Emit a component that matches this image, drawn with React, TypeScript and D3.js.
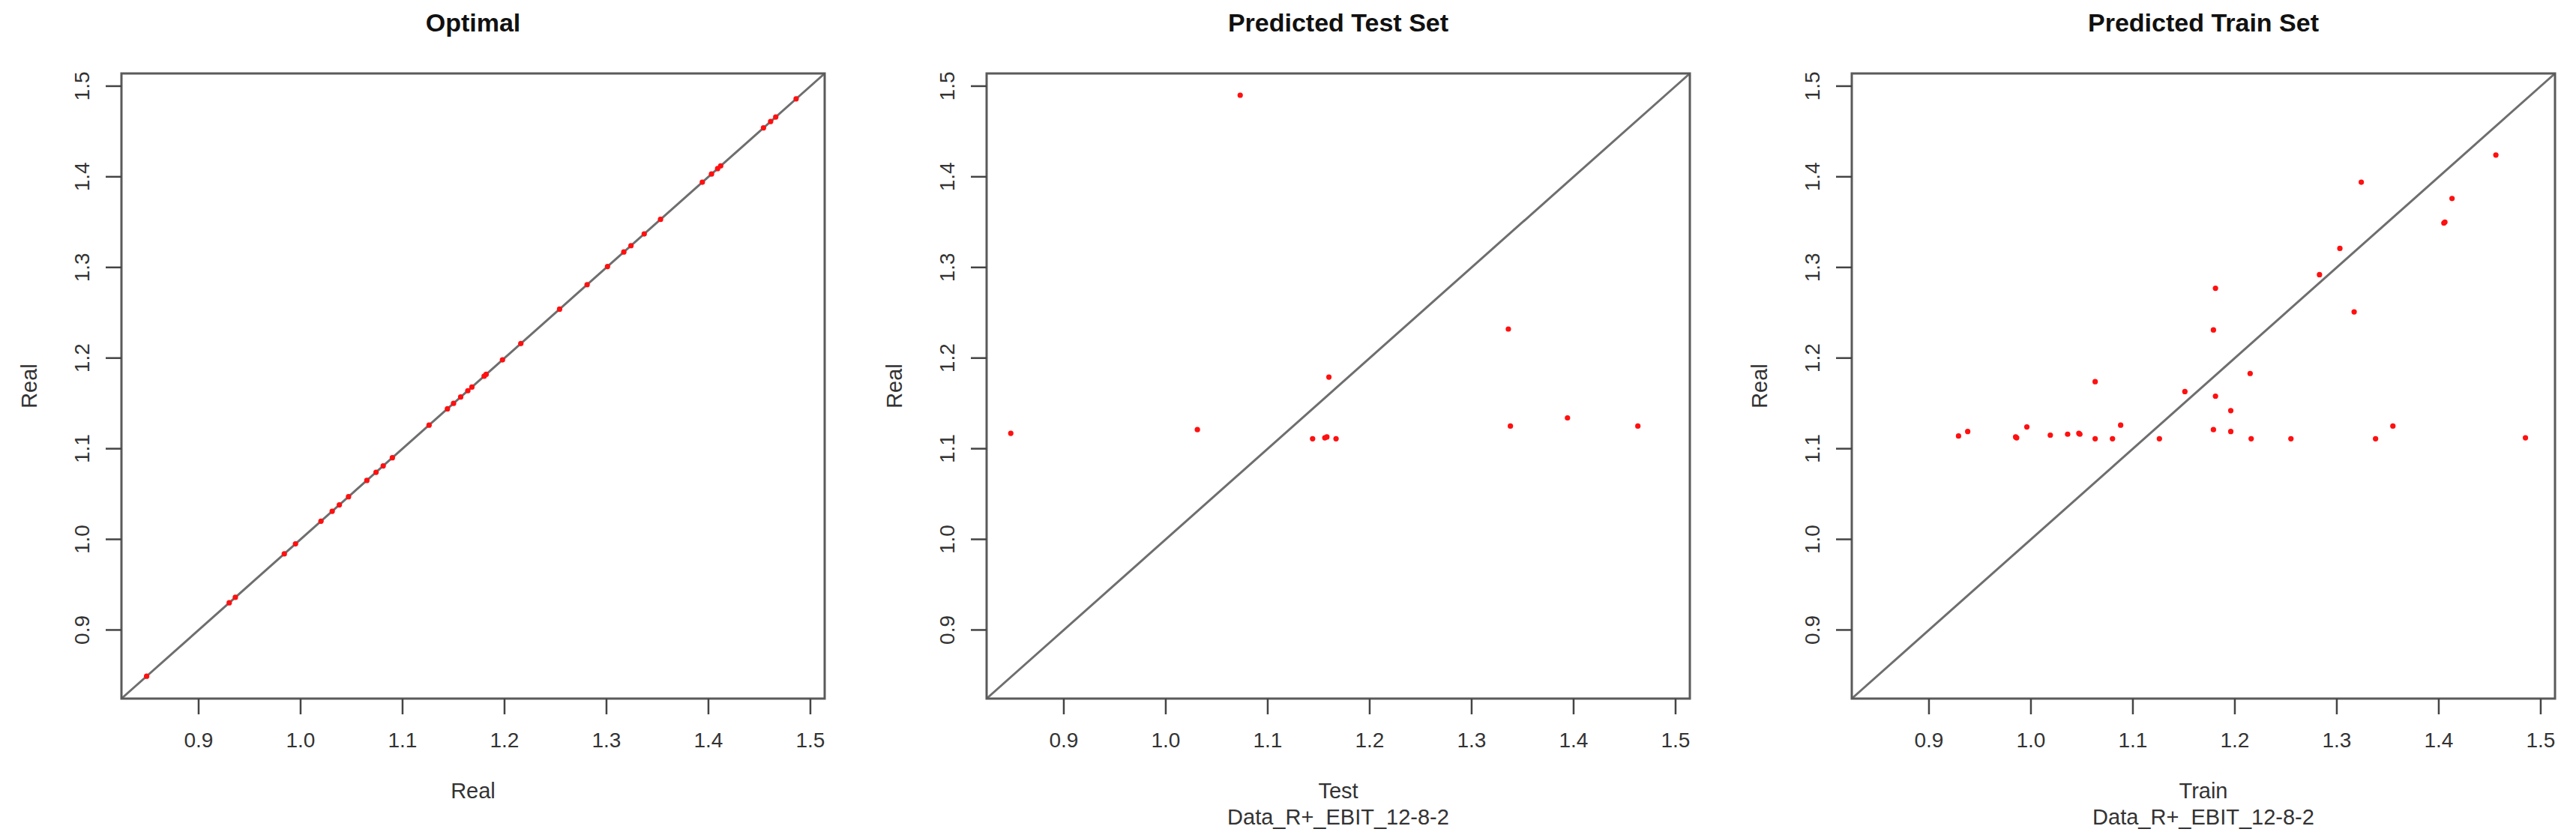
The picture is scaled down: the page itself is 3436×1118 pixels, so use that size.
import React from "react";
import * as d3 from "d3";

// ---- data ----
const optimalReal = [
  0.849, 0.930, 0.936, 0.984, 0.995, 1.020, 1.031, 1.038, 1.047, 1.065, 1.074,
  1.081, 1.090, 1.126, 1.144, 1.150, 1.157, 1.164, 1.168, 1.180, 1.182, 1.198,
  1.216, 1.254, 1.281, 1.301, 1.317, 1.324, 1.337, 1.353, 1.394, 1.403, 1.409,
  1.412, 1.454, 1.461, 1.466, 1.486,
];

const testX = [0.848, 1.031, 1.073, 1.144, 1.156, 1.158, 1.167, 1.160, 1.336, 1.338, 1.394, 1.463];
const testY = [1.117, 1.121, 1.490, 1.111, 1.112, 1.113, 1.111, 1.179, 1.232, 1.125, 1.134, 1.125];

const trainX = [
  0.929, 0.938, 0.985, 0.986, 0.996, 1.019, 1.036, 1.047, 1.048, 1.063, 1.063,
  1.080, 1.088, 1.126, 1.151, 1.179, 1.179, 1.181, 1.181, 1.196, 1.196, 1.215,
  1.216, 1.255, 1.283, 1.303, 1.317, 1.324, 1.338, 1.355, 1.405, 1.406, 1.413,
  1.456, 1.485,
];
const trainY = [
  1.114, 1.119, 1.113, 1.112, 1.124, 1.115, 1.116, 1.117, 1.116, 1.174, 1.111,
  1.111, 1.126, 1.111, 1.163, 1.121, 1.231, 1.277, 1.158, 1.142, 1.119, 1.183,
  1.111, 1.111, 1.292, 1.321, 1.251, 1.394, 1.111, 1.125, 1.349, 1.350, 1.376,
  1.424, 1.112,
];

const tickValues = [0.9, 1.0, 1.1, 1.2, 1.3, 1.4, 1.5];
const domainMin = 0.8243;
const domainMax = 1.514;

const panelTitles = ["Optimal", "Predicted Test Set", "Predicted Train Set"];
const xTitles = ["Real", "Test", "Train"];
const subTitles = ["", "Data_R+_EBIT_12-8-2", "Data_R+_EBIT_12-8-2"];

const W = 3436;
const H = 1118;
const FONT = "'Liberation Sans', Arial, sans-serif";

function Panel({ index, xs, ys }: { index: number; xs: number[]; ys: number[] }) {
  const left = 162 + 1154 * index;
  const right = left + 938;
  const top = 98;
  const bottom = 932;
  const x = d3.scaleLinear().domain([domainMin, domainMax]).range([left, right]);
  const y = d3.scaleLinear().domain([domainMin, domainMax]).range([bottom, top]);
  const fmt = d3.format(".1f");
  const cx = (left + right) / 2;
  const cy = (top + bottom) / 2;
  const diag = d3.line<number>().x((d) => x(d)).y((d) => y(d))([domainMin, domainMax]) || "";
  return (
    <g>
      <text x={cx} y={42} textAnchor="middle" fontFamily={FONT} fontWeight="bold" fontSize={34} fill="#111">
        {panelTitles[index]}
      </text>
      <path d={diag} stroke="#6e6e6e" strokeWidth={3} fill="none" />
      {xs.map((v, i) => (
        <circle key={i} cx={x(v)} cy={y(ys[i])} r={3.6} fill="#ff1010" />
      ))}
      <rect x={left} y={top} width={right - left} height={bottom - top} fill="none" stroke="#5a5a5a" strokeWidth={3} />
      {tickValues.map((t) => (
        <g key={"x" + t}>
          <line x1={x(t)} x2={x(t)} y1={bottom} y2={bottom + 21} stroke="#444" strokeWidth={2.5} />
          <text x={x(t)} y={997} textAnchor="middle" fontFamily={FONT} fontSize={28} fill="#333">
            {fmt(t)}
          </text>
        </g>
      ))}
      {tickValues.map((t) => (
        <g key={"y" + t}>
          <line x1={left - 21} x2={left} y1={y(t)} y2={y(t)} stroke="#444" strokeWidth={2.5} />
          <text
            transform={`translate(${left - 43},${y(t)}) rotate(-90)`}
            textAnchor="middle"
            fontFamily={FONT}
            fontSize={28}
            fill="#333"
          >
            {fmt(t)}
          </text>
        </g>
      ))}
      <text x={cx} y={1065} textAnchor="middle" fontFamily={FONT} fontSize={29} fill="#333">
        {xTitles[index]}
      </text>
      {subTitles[index] && (
        <text x={cx} y={1100} textAnchor="middle" fontFamily={FONT} fontSize={29} fill="#333">
          {subTitles[index]}
        </text>
      )}
      <text
        transform={`translate(${left - 113},${cy}) rotate(-90)`}
        textAnchor="middle"
        fontFamily={FONT}
        fontSize={29}
        fill="#333"
      >
        Real
      </text>
    </g>
  );
}

export default function App() {
  return (
    <svg
      width={W}
      height={H}
      viewBox={`0 0 ${W} ${H}`}
      style={{ position: "absolute", left: 0, top: 0, background: "#fff" }}
    >
      <rect x={0} y={0} width={W} height={H} fill="#fff" />
      <Panel index={0} xs={optimalReal} ys={optimalReal} />
      <Panel index={1} xs={testX} ys={testY} />
      <Panel index={2} xs={trainX} ys={trainY} />
    </svg>
  );
}
